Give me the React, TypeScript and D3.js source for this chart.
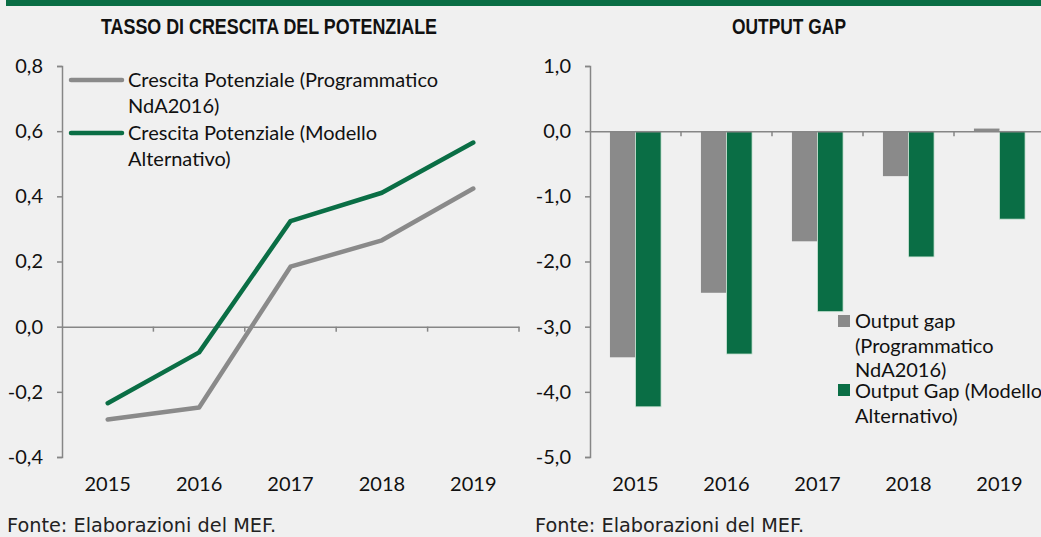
import { useEffect, useRef } from "react";
import * as d3 from "d3";

// categories
const years = ["2015", "2016", "2017", "2018", "2019"];

// left panel: tasso di crescita del potenziale
const crescitaProgrammatico = [-0.285, -0.248, 0.184, 0.265, 0.424];
const crescitaAlternativo = [-0.235, -0.079, 0.324, 0.411, 0.565];
const crescitaTicks = [-0.4, -0.2, 0, 0.2, 0.4, 0.6, 0.8];

// right panel: output gap
const gapProgrammatico = [-3.47, -2.48, -1.69, -0.69, 0.04];
const gapAlternativo = [-4.23, -3.42, -2.77, -1.93, -1.35];
const gapTicks = [-5, -4, -3, -2, -1, 0, 1];

const GREEN = "#0a6e45";
const GREY = "#8a8a8a";
const AXIS = "#868686";
const LABEL_FONT = "Lato, 'Open Sans', sans-serif";
const LABEL_SIZE = "20px";

const fmt = (v: number) => d3.format(".1f")(v).replace(".", ",").replace("−", "-");

const App = () => {
  const ref = useRef<SVGSVGElement | null>(null);

  useEffect(() => {
    const width = 1041;
    const height = 537;
    const svg = d3.select(ref.current).attr("width", width).attr("height", height);
    svg.selectAll("*").remove();

    svg.append("rect").attr("width", width).attr("height", height).attr("fill", "#f0f0f0");
    // green band at the top
    svg.append("rect").attr("x", 6).attr("y", 0).attr("width", width - 6).attr("height", 6).attr("fill", GREEN);

    // titles (condensed bold, squeezed to the reference width)
    const title = (x: number, t: string, w: number) =>
      svg
        .append("text")
        .attr("x", x)
        .attr("y", 34)
        .attr("text-anchor", "middle")
        .attr("textLength", w)
        .attr("lengthAdjust", "spacingAndGlyphs")
        .style("font-family", "'Liberation Sans Narrow', 'Arial Narrow', 'Liberation Sans', sans-serif")
        .style("font-weight", "bold")
        .style("font-size", "22.5px")
        .attr("fill", "#111")
        .text(t);
    title(269, "TASSO DI CRESCITA DEL POTENZIALE", 336);
    title(789, "OUTPUT GAP", 114);

    // source notes
    const fonte = (x: number) =>
      svg
        .append("text")
        .attr("x", x)
        .attr("y", 532)
        .style("font-family", "'DejaVu Sans', Verdana, sans-serif")
        .style("font-size", "19.3px")
        .attr("fill", "#222")
        .text("Fonte: Elaborazioni del MEF.");
    fonte(7);
    fonte(535);

    const top = 66;
    const bottom = 457;

    // ---------- left: line chart ----------
    const xL = d3.scaleBand().domain(years).range([62, 519]).padding(0);
    const yL = d3.scaleLinear().domain([-0.4, 0.8]).range([bottom, top]);

    const gL = svg.append("g");
    const yAxisL = gL
      .append("g")
      .attr("transform", "translate(62,0)")
      .call(d3.axisLeft(yL).tickValues(crescitaTicks).tickFormat((d) => fmt(+d)).tickSize(5).tickPadding(14));
    const xAxisL = gL
      .append("g")
      .attr("transform", `translate(0,${yL(0)})`)
      .call(d3.axisBottom(xL).tickSize(0).tickFormat(() => ""));
    // category boundary ticks
    gL.selectAll("line.cat")
      .data(years)
      .enter()
      .append("line")
      .attr("x1", (d) => (xL(d) as number) + xL.bandwidth())
      .attr("x2", (d) => (xL(d) as number) + xL.bandwidth())
      .attr("y1", yL(0))
      .attr("y2", yL(0) + 5)
      .attr("stroke", AXIS)
      .attr("stroke-width", 1.5);
    gL.selectAll("text.xl")
      .data(years)
      .enter()
      .append("text")
      .attr("x", (d) => (xL(d) as number) + xL.bandwidth() / 2)
      .attr("y", 491)
      .attr("text-anchor", "middle")
      .style("font-family", LABEL_FONT)
      .style("font-size", LABEL_SIZE)
      .attr("fill", "#111")
      .text((d) => d);

    const line = d3
      .line<number>()
      .x((d, i) => (xL(years[i]) as number) + xL.bandwidth() / 2)
      .y((d) => yL(d));
    gL.append("path")
      .datum(crescitaProgrammatico)
      .attr("d", line)
      .attr("fill", "none")
      .attr("stroke", GREY)
      .attr("stroke-width", 4.5)
      .attr("stroke-linecap", "round")
      .attr("stroke-linejoin", "round");
    gL.append("path")
      .datum(crescitaAlternativo)
      .attr("d", line)
      .attr("fill", "none")
      .attr("stroke", GREEN)
      .attr("stroke-width", 4.5)
      .attr("stroke-linecap", "round")
      .attr("stroke-linejoin", "round");

    // legend (left)
    const legL = [
      { color: GREY, y: 80, lines: ["Crescita Potenziale (Programmatico", "NdA2016)"], base: [87, 113] },
      { color: GREEN, y: 133, lines: ["Crescita Potenziale (Modello", "Alternativo)"], base: [140, 166] },
    ];
    legL.forEach((l) => {
      gL.append("line")
        .attr("x1", 71)
        .attr("x2", 122)
        .attr("y1", l.y)
        .attr("y2", l.y)
        .attr("stroke", l.color)
        .attr("stroke-width", 4.5)
        .attr("stroke-linecap", "round");
      l.lines.forEach((t, i) =>
        gL.append("text")
          .attr("x", 128)
          .attr("y", l.base[i])
          .style("font-family", LABEL_FONT)
          .style("font-size", LABEL_SIZE)
          .attr("fill", "#111")
          .text(t)
      );
    });

    // ---------- right: bar chart ----------
    const xR = d3.scaleBand().domain(years).range([590, 1045]).padding(0);
    const xSub = d3
      .scaleBand()
      .domain(["prog", "alt"])
      .range([0, xR.bandwidth()])
      .paddingInner(0)
      .paddingOuter(0.78);
    const yR = d3.scaleLinear().domain([-5, 1]).range([bottom, top]);

    const gR = svg.append("g");
    const barData = years.flatMap((y, i) => [
      { year: y, key: "prog", v: gapProgrammatico[i] },
      { year: y, key: "alt", v: gapAlternativo[i] },
    ]);
    gR.selectAll("rect.bar")
      .data(barData)
      .enter()
      .append("rect")
      .attr("x", (d) => (xR(d.year) as number) + (xSub(d.key) as number))
      .attr("y", (d) => yR(Math.max(0, d.v)))
      .attr("width", xSub.bandwidth())
      .attr("height", (d) => Math.abs(yR(d.v) - yR(0)))
      .attr("fill", (d) => (d.key === "prog" ? GREY : GREEN))
      .attr("stroke", (d) => (d.key === "prog" ? "none" : "#cfe6d8"))
      .attr("stroke-width", 0.8);

    const yAxisR = gR
      .append("g")
      .attr("transform", "translate(590,0)")
      .call(d3.axisLeft(yR).tickValues(gapTicks).tickFormat((d) => fmt(+d)).tickSize(5).tickPadding(14));
    const xAxisR = gR
      .append("g")
      .attr("transform", `translate(0,${yR(0)})`)
      .call(d3.axisBottom(xR).tickSize(0).tickFormat(() => ""));
    gR.selectAll("line.cat")
      .data(years)
      .enter()
      .append("line")
      .attr("x1", (d) => (xR(d) as number) + xR.bandwidth())
      .attr("x2", (d) => (xR(d) as number) + xR.bandwidth())
      .attr("y1", yR(0))
      .attr("y2", yR(0) + 5)
      .attr("stroke", AXIS)
      .attr("stroke-width", 1.5);
    gR.selectAll("text.xr")
      .data(years)
      .enter()
      .append("text")
      .attr("x", (d) => (xR(d) as number) + xR.bandwidth() / 2)
      .attr("y", 491)
      .attr("text-anchor", "middle")
      .style("font-family", LABEL_FONT)
      .style("font-size", LABEL_SIZE)
      .attr("fill", "#111")
      .text((d) => d);

    // legend (right)
    const legR = [
      { color: GREY, sq: 315, lines: ["Output gap", "(Programmatico", "NdA2016)"], base: [328, 353, 377] },
      { color: GREEN, sq: 384, lines: ["Output Gap (Modello", "Alternativo)"], base: [398, 423] },
    ];
    legR.forEach((l) => {
      gR.append("rect").attr("x", 838).attr("y", l.sq).attr("width", 12).attr("height", 12).attr("fill", l.color);
      l.lines.forEach((t, i) =>
        gR.append("text")
          .attr("x", 855)
          .attr("y", l.base[i])
          .style("font-family", LABEL_FONT)
          .style("font-size", LABEL_SIZE)
          .attr("fill", "#111")
          .text(t)
      );
    });

    // axis styling
    [yAxisL, xAxisL, yAxisR, xAxisR].forEach((a) => {
      a.select(".domain").attr("stroke", AXIS).attr("stroke-width", 1.5);
      a.selectAll(".tick line").attr("stroke", AXIS).attr("stroke-width", 1.5);
      a.selectAll(".tick text")
        .style("font-family", LABEL_FONT)
        .style("font-size", LABEL_SIZE)
        .attr("fill", "#111");
    });

    return () => {
      d3.select(ref.current).selectAll("*").remove();
    };
  }, []);

  return <svg ref={ref} style={{ position: "absolute", left: 0, top: 0, display: "block" }}></svg>;
};

export default App;
